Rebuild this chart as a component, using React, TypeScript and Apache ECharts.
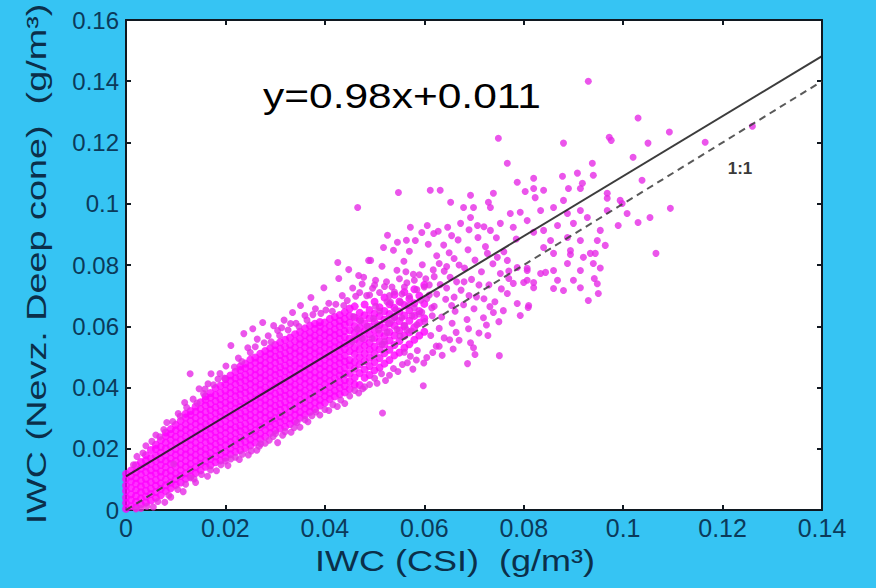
import React, { useEffect, useRef } from "react";
import * as echarts from "echarts";

// Axis ticks (g/m^3)
const xTicks = [0, 0.02, 0.04, 0.06, 0.08, 0.1, 0.12, 0.14];
const yTicks = [0, 0.02, 0.04, 0.06, 0.08, 0.1, 0.12, 0.14, 0.16];

// Fit line and 1:1 line
const fitSlope = 0.98;
const fitIntercept = 0.011;
const lineXRange = [0, 0.14];

// Dense core of the cloud, read per column: [x, y1, y2, ...] in units of 0.001 g/m^3
const coreColumns: number[][] = [
  [0, 0.4, 2.3, 4.1, 6.2, 8.0, 10.1, 11.8],
  [1, 1.2, 3.3, 5.1, 7.2, 9.3, 11.0, 12.9],
  [2, 0.8, 2.7, 4.6, 6.5, 8.6, 10.4, 12.3, 14.6],
  [3, 1.9, 3.8, 5.8, 7.7, 9.6, 11.6, 13.5, 15.7],
  [4, 2.4, 4.4, 6.3, 8.3, 10.2, 12.4, 14.3, 16.2, 17.9],
  [5, 3.1, 5.2, 7.0, 9.1, 11.2, 13.0, 15.1, 17.0, 19.6],
  [6, 4.0, 5.9, 7.9, 9.8, 11.9, 13.8, 15.9, 17.8, 19.9, 21.3],
  [7, 4.8, 6.9, 8.7, 10.8, 12.6, 14.7, 16.6, 18.7, 20.6, 22.8],
  [8, 6.2, 8.1, 10.0, 12.1, 14.0, 16.0, 17.9, 20.1, 22.0, 24.1, 25.3],
  [9, 7.1, 9.0, 11.0, 12.9, 15.0, 16.8, 18.9, 20.8, 22.9, 24.8, 26.4],
  [10, 8.2, 10.1, 12.0, 14.1, 16.0, 18.0, 19.9, 22.0, 23.9, 26.0, 27.8],
  [11, 9.0, 11.1, 13.0, 14.9, 17.0, 18.9, 21.0, 22.9, 25.0, 26.9, 29.1],
  [12, 10.2, 12.0, 14.1, 16.0, 18.1, 20.0, 22.1, 24.0, 26.1, 28.0, 30.2, 31.4],
  [13, 11.0, 13.1, 15.0, 17.1, 19.0, 21.1, 23.0, 25.1, 27.0, 29.1, 31.0, 32.3],
  [14, 12.1, 14.0, 16.1, 18.0, 20.1, 22.0, 24.1, 26.0, 28.1, 30.0, 32.1, 33.8],
  [15, 13.0, 15.1, 17.0, 19.1, 21.0, 23.1, 25.0, 27.1, 29.0, 31.1, 33.0, 35.2],
  [16, 14.1, 16.0, 18.1, 20.0, 22.1, 24.0, 26.1, 28.0, 30.1, 32.0, 34.1, 36.0, 37.1],
  [17, 14.6, 16.7, 18.6, 20.7, 22.6, 24.7, 26.6, 28.7, 30.6, 32.7, 34.6, 36.7, 38.2],
  [18, 15.6, 17.5, 19.6, 21.5, 23.6, 25.5, 27.6, 29.5, 31.6, 33.5, 35.6, 37.5, 39.8],
  [19, 16.2, 18.3, 20.2, 22.3, 24.2, 26.3, 28.2, 30.3, 32.2, 34.3, 36.2, 38.3, 40.6],
  [20, 17.1, 19.0, 21.1, 23.0, 25.1, 27.0, 29.1, 31.0, 33.1, 35.0, 37.1, 39.0, 41.1, 42.8],
  [21, 18.2, 20.1, 22.2, 24.1, 26.2, 28.1, 30.2, 32.1, 34.2, 36.1, 38.2, 40.1, 42.2, 43.9],
  [22, 19.0, 21.1, 23.0, 25.1, 27.0, 29.1, 31.0, 33.1, 35.0, 37.1, 39.0, 41.1, 43.0, 45.1],
  [23, 19.6, 21.7, 23.6, 25.7, 27.6, 29.7, 31.6, 33.7, 35.6, 37.7, 39.6, 41.7, 43.6, 45.7, 46.9],
  [24, 20.2, 22.3, 24.2, 26.3, 28.2, 30.3, 32.2, 34.3, 36.2, 38.3, 40.2, 42.3, 44.2, 46.3, 47.8],
  [25, 21.1, 23.0, 25.1, 27.0, 29.1, 31.0, 33.1, 35.0, 37.1, 39.0, 41.1, 43.0, 45.1, 47.0, 49.1],
  [26, 22.0, 24.1, 26.0, 28.1, 30.0, 32.1, 34.0, 36.1, 38.0, 40.1, 42.0, 44.1, 46.0, 48.1, 49.8],
  [27, 23.1, 25.0, 27.1, 29.0, 31.1, 33.0, 35.1, 37.0, 39.1, 41.0, 43.1, 45.0, 47.1, 49.0, 51.0],
  [28, 24.0, 26.1, 28.0, 30.1, 32.0, 34.1, 36.0, 38.1, 40.0, 42.1, 44.0, 46.1, 48.0, 50.1, 51.9],
  [29, 25.1, 27.0, 29.1, 31.0, 33.1, 35.0, 37.1, 39.0, 41.1, 43.0, 45.1, 47.0, 49.1, 51.0, 52.8],
  [30, 26.0, 28.1, 30.0, 32.1, 34.0, 36.1, 38.0, 40.1, 42.0, 44.1, 46.0, 48.1, 50.0, 52.1, 53.9],
  [31, 26.6, 28.7, 30.6, 32.7, 34.6, 36.7, 38.6, 40.7, 42.6, 44.7, 46.6, 48.7, 50.6, 52.7, 54.8],
  [32, 27.2, 29.3, 31.2, 33.3, 35.2, 37.3, 39.2, 41.3, 43.2, 45.3, 47.2, 49.3, 51.2, 53.3, 55.6],
  [33, 28.1, 30.0, 32.1, 34.0, 36.1, 38.0, 40.1, 42.0, 44.1, 46.0, 48.1, 50.0, 52.1, 54.0, 56.3],
  [34, 29.0, 31.1, 33.0, 35.1, 37.0, 39.1, 41.0, 43.1, 45.0, 47.1, 49.0, 51.1, 53.0, 55.1, 57.4],
  [35, 30.1, 32.0, 34.1, 36.0, 38.1, 40.0, 42.1, 44.0, 46.1, 48.0, 50.1, 52.0, 54.1, 56.0, 58.2],
  [36, 31.0, 33.1, 35.0, 37.1, 39.0, 41.1, 43.0, 45.1, 47.0, 49.1, 51.0, 53.1, 55.0, 57.1, 59.3],
  [37, 32.1, 34.0, 36.1, 38.0, 40.1, 42.0, 44.1, 46.0, 48.1, 50.0, 52.1, 54.0, 56.1, 58.0, 60.2],
  [38, 33.0, 35.1, 37.0, 39.1, 41.0, 43.1, 45.0, 47.1, 49.0, 51.1, 53.0, 55.1, 57.0, 59.1, 60.8],
  [39, 34.1, 36.0, 38.1, 40.0, 42.1, 44.0, 46.1, 48.0, 50.1, 52.0, 54.1, 56.0, 58.1, 60.0, 61.4],
  [40, 35.0, 37.1, 39.0, 41.1, 43.0, 45.1, 47.0, 49.1, 51.0, 53.1, 55.0, 57.1, 59.0, 61.2],
  [41, 36.2, 38.1, 40.2, 42.1, 44.2, 46.1, 48.2, 50.1, 52.2, 54.1, 56.2, 58.1, 60.2, 62.4],
  [42, 37.1, 39.0, 41.1, 43.0, 45.1, 47.0, 49.1, 51.0, 53.1, 55.0, 57.1, 59.0, 61.1, 63.0],
  [43, 37.8, 39.9, 41.8, 43.9, 45.8, 47.9, 49.8, 51.9, 53.8, 55.9, 57.8, 59.9, 61.8, 63.7],
  [44, 38.4, 40.5, 42.4, 44.5, 46.4, 48.5, 50.4, 52.5, 54.4, 56.5, 58.4, 60.5, 62.4, 64.6],
  [45, 39.5, 42.0, 44.6, 47.2, 49.0, 51.8, 54.1, 56.0, 58.7, 61.2, 63.4, 65.8],
  [46, 41.0, 43.3, 46.1, 48.4, 50.9, 53.0, 55.6, 57.9, 60.1, 62.8, 66.5],
  [47, 40.8, 44.7, 47.5, 49.9, 52.4, 54.8, 57.1, 59.5, 62.0, 64.4],
  [48, 43.2, 45.8, 48.6, 51.1, 53.6, 55.9, 58.5, 61.0, 63.6, 67.1],
  [49, 44.1, 47.0, 49.7, 52.3, 54.6, 57.4, 59.9, 62.7, 65.3],
  [50, 45.6, 48.3, 51.0, 53.4, 56.2, 58.8, 61.5, 64.1, 68.0],
  [51, 46.5, 49.6, 52.5, 55.1, 57.6, 60.4, 63.3, 66.2],
  [52, 47.8, 51.2, 54.0, 56.8, 59.5, 62.2, 65.0, 69.4],
  [53, 49.0, 52.3, 55.4, 58.1, 61.0, 64.0, 67.2],
  [54, 50.5, 53.9, 57.0, 60.2, 63.1, 66.0, 70.3],
  [55, 51.4, 55.2, 58.6, 61.7, 64.8, 68.1],
  [56, 53.0, 56.9, 60.0, 63.5, 66.9, 71.2],
  [57, 54.1, 58.0, 61.8, 65.2, 69.0],
  [58, 55.6, 59.7, 63.4, 67.5, 72.1],
  [59, 57.0, 61.1, 65.0, 70.0],
  [60, 58.2, 62.6, 67.3, 73.5],
];

// Scattered points around the core: [x, y] in units of 0.001 g/m^3
const upperEdgePoints: number[][] = [
  [12.9, 44.5], [17.1, 44.5], [14.7, 39.6], [21.1, 53.7], [23.7, 57.6], [25.5, 59.2], [27.5, 61.2],
  [29.7, 60.2], [33.1, 60.9], [33.5, 64.5], [35.1, 66.8], [37.2, 69.4], [39.8, 72.6], [42.6, 80.8],
  [42.8, 75.6], [46.8, 76.6], [48.8, 81.5], [51.8, 85.7], [52.6, 89.7], [46.6, 98.8], [54.8, 103.7],
  [57.2, 92.3], [54.6, 87.4], [49.2, 81.5], [6.0, 24.5], [8.2, 28.6], [10.5, 31.5], [4.0, 21.0],
  [2.2, 17.5], [11.8, 35.1], [15.6, 38.0], [18.5, 42.8], [20.1, 47.0], [16.5, 41.2], [24.5, 53.0],
  [26.4, 55.8], [30.5, 58.6], [31.8, 62.0], [36.0, 63.5], [38.1, 65.7], [40.8, 67.5], [43.5, 70.0],
  [45.6, 72.5], [47.5, 73.8], [50.2, 75.0], [44.8, 78.5],
  [1.5, 14.8], [3.4, 18.6], [5.2, 22.4], [6.8, 23.9], [7.6, 26.3], [9.4, 28.9], [10.9, 30.6],
  [12.2, 33.5], [13.5, 36.2], [14.3, 34.9], [15.9, 39.5], [17.6, 40.9], [18.9, 44.6], [19.8, 43.1],
  [21.8, 46.7], [22.6, 49.6], [23.3, 48.5], [25.0, 51.4], [26.0, 53.3], [27.8, 54.6], [28.6, 56.9],
  [29.2, 54.9], [30.9, 57.0], [31.3, 59.5], [32.6, 58.8], [34.2, 61.0], [34.8, 59.9], [36.4, 62.0],
  [37.6, 63.8], [39.2, 64.2], [40.2, 65.3], [41.5, 64.9], [42.2, 67.2], [43.8, 66.8], [44.5, 68.4],
  [46.2, 69.8], [47.0, 71.0], [48.4, 70.0], [49.6, 72.4], [51.0, 71.0], [52.4, 74.5], [53.5, 72.8],
  [55.0, 75.5], [56.3, 77.8],
];

const lowerEdgePoints: number[][] = [
  [3.0, 0.5], [5.5, 1.0], [7.8, 2.5], [9.0, 4.2], [11.5, 6.0], [13.0, 10.5], [14.0, 9.0], [9.6, 15.0],
  [16.4, 11.0], [18.2, 12.8], [20.5, 14.5], [21.1, 16.7], [22.8, 16.5], [24.6, 18.0], [26.3, 19.5],
  [27.1, 21.6], [28.0, 21.8], [30.5, 22.0], [30.1, 25.0], [31.5, 24.4], [33.2, 25.4], [35.0, 27.0],
  [36.6, 28.8], [39.0, 31.0], [40.8, 32.5], [42.5, 33.8], [44.0, 34.8], [46.0, 39.0], [48.0, 40.2],
  [50.5, 41.4], [51.6, 31.7], [53.0, 44.0], [54.7, 45.2], [56.6, 48.1], [57.7, 46.0], [59.9, 48.0],
  [59.8, 40.6], [61.7, 51.4], [63.0, 53.5], [65.1, 55.6], [68.7, 47.8], [69.9, 53.0], [68.9, 59.2],
  [69.3, 54.6], [75.1, 50.4], [70.2, 50.8],
  [2.0, 0.3], [4.2, 1.2], [6.4, 2.8], [8.6, 4.8], [10.4, 6.7], [12.0, 8.4], [13.7, 10.1], [15.2, 11.6],
  [17.0, 13.1], [19.1, 14.8], [20.0, 16.0], [22.0, 17.2], [23.4, 18.2], [25.2, 19.3], [26.8, 20.8],
  [28.8, 22.8], [29.6, 24.0], [32.0, 25.6], [33.8, 26.9], [34.4, 28.6], [36.0, 29.5], [37.4, 30.8],
  [38.2, 32.0], [40.0, 32.8], [41.6, 34.4], [43.2, 35.9], [45.0, 37.2], [46.8, 38.2], [47.6, 39.6],
  [49.0, 41.0], [50.0, 43.0], [51.4, 44.5], [52.2, 42.3], [53.8, 46.2], [55.6, 47.5], [57.2, 50.2],
  [58.4, 49.0],
];

const middlePoints: number[][] = [
  [55.5, 70.5], [56.5, 74.2], [57.8, 77.0], [58.5, 72.0], [59.6, 80.1], [60.3, 75.5], [61.0, 70.2],
  [61.8, 78.4], [62.5, 83.0], [63.2, 73.6], [63.9, 86.5], [64.5, 79.5], [65.2, 76.0], [66.0, 82.1],
  [66.8, 88.2], [67.4, 71.8], [68.1, 79.0], [68.8, 85.0], [69.5, 75.3], [70.2, 81.6], [70.8, 89.0],
  [71.5, 77.8], [72.3, 86.0], [73.0, 73.5], [73.8, 80.4], [57.0, 84.5], [58.2, 88.0], [55.9, 81.2],
  [54.5, 78.3], [60.8, 86.8], [62.0, 66.5], [64.3, 68.8], [66.2, 64.9], [67.9, 67.0], [70.5, 69.6],
  [71.9, 62.8], [58.9, 64.0], [60.1, 61.5], [63.0, 59.3], [65.6, 61.0], [56.0, 60.3], [54.0, 62.9],
  [53.2, 67.8], [52.0, 73.0], [55.1, 56.8], [57.4, 58.4], [61.3, 57.0], [64.0, 56.2], [66.4, 58.0],
  [62.4, 53.5], [58.6, 52.1], [56.0, 51.5], [52.0, 55.0], [50.8, 58.8], [60.5, 49.8], [63.6, 50.5],
  [65.8, 52.6], [67.0, 55.4], [71.0, 57.8], [72.5, 60.4], [74.2, 68.0], [75.5, 72.2], [77.0, 78.0],
  [76.0, 84.3], [78.5, 88.5], [74.5, 88.9], [72.0, 92.5], [69.0, 91.5], [65.5, 89.6], [62.8, 91.0],
  [59.5, 90.6], [56.4, 88.1], [53.8, 84.8], [51.5, 79.6], [50.0, 73.5], [49.0, 70.2], [47.8, 76.0],
  [52.8, 60.8], [54.2, 65.4], [56.8, 66.8], [59.3, 68.5], [61.6, 63.4], [68.6, 62.2], [70.0, 65.7],
  [73.2, 66.4], [75.0, 61.5], [72.8, 57.0],
  [45.5, 55.0], [46.5, 59.0], [47.5, 56.0], [48.5, 60.0], [49.5, 56.0], [50.5, 60.2], [51.5, 54.0],
  [52.5, 58.0], [53.5, 62.0], [54.5, 59.0], [55.5, 62.8], [56.5, 58.8], [57.5, 63.4], [58.5, 60.5],
  [59.5, 64.6], [60.5, 69.0], [61.5, 66.0], [62.5, 70.5], [63.5, 63.0], [64.5, 72.5], [65.5, 66.8],
  [66.5, 74.5], [58.0, 66.0], [60.0, 72.8], [62.0, 76.2], [64.0, 78.0], [57.0, 69.8], [55.2, 67.8],
  [53.0, 70.0], [51.0, 65.0], [49.8, 62.5], [47.2, 61.8], [45.8, 63.2], [50.2, 66.5], [52.5, 68.0],
  [54.0, 71.2], [56.0, 72.8], [58.0, 75.0], [59.0, 76.8], [61.0, 73.5], [63.0, 80.5], [65.0, 84.0],
  [67.0, 80.0], [69.0, 70.0], [71.0, 73.5], [72.0, 69.0], [66.0, 69.5], [68.0, 74.5],
];

const rightClusterPoints: number[][] = [
  [93.0, 140.0], [103.0, 128.0], [109.3, 123.4], [97.2, 121.7], [97.6, 120.7], [105.0, 119.8], [88.0, 119.8],
  [116.5, 120.1], [126.0, 125.3], [74.9, 121.4], [76.7, 113.2], [93.8, 113.2], [102.0, 115.2],
  [94.0, 109.3], [87.8, 109.0], [90.8, 110.0], [91.8, 106.7], [103.8, 107.7], [82.0, 108.3],
  [78.7, 107.0], [82.0, 105.0], [82.3, 102.0], [84.0, 104.4], [80.3, 104.0], [89.0, 105.0],
  [91.4, 105.0], [96.8, 103.4], [96.8, 101.8], [96.8, 97.8], [99.4, 101.1], [99.8, 100.1],
  [100.8, 96.8], [109.5, 98.5], [105.4, 95.5], [103.0, 93.9], [99.0, 92.9], [106.6, 83.8],
  [95.4, 91.3], [94.8, 88.0], [96.4, 86.4], [94.4, 83.8], [95.0, 70.7], [93.0, 68.4],
  [61.2, 104.4], [63.2, 104.4], [65.3, 100.5], [69.3, 102.8], [73.9, 103.4], [67.9, 98.8],
  [69.9, 98.8], [72.9, 100.5], [73.3, 98.8], [60.6, 92.9], [61.9, 90.3], [64.7, 92.3],
  [67.3, 93.6], [69.3, 95.5], [70.7, 92.9], [73.3, 91.3], [75.3, 93.6], [77.3, 96.8], [79.3, 97.2],
  [77.9, 92.3], [80.7, 94.5], [83.4, 97.8], [86.0, 98.8], [88.0, 101.1], [88.8, 96.8], [91.4, 97.8],
  [92.8, 95.5], [90.0, 93.6], [86.8, 92.9], [84.0, 91.3], [82.0, 90.7], [85.4, 88.0], [88.8, 89.0],
  [91.4, 88.0], [84.0, 85.7], [86.0, 83.8], [89.4, 84.7], [92.0, 82.5], [88.8, 80.5], [86.0, 78.2],
  [83.4, 77.2], [80.7, 78.9], [78.7, 79.2], [76.7, 81.5], [74.7, 82.5], [72.7, 83.8], [75.3, 77.2],
  [77.9, 74.0], [80.7, 75.0], [82.0, 72.6], [86.8, 75.0], [90.0, 75.0], [88.0, 71.7], [73.9, 64.5],
  [75.9, 65.1], [78.7, 67.4], [80.9, 66.1], [79.3, 63.5], [81.0, 66.8], [76.7, 70.7], [94.8, 73.9],
  [86.0, 72.3], [91.4, 72.6], [84.4, 77.6], [91.4, 78.2], [94.0, 80.5], [93.4, 83.8], [89.4, 83.4],
  [80.0, 74.3], [82.0, 74.3], [77.0, 75.6], [80.7, 78.2], [95.4, 79.0], [94.2, 75.6],
];

const SCALE = 1000;

function toData(points: number[][]) {
  return points.map((p) => [p[0] / SCALE, p[1] / SCALE]);
}

export default function App() {
  const ref = useRef<HTMLDivElement>(null);

  useEffect(() => {
    if (!ref.current) return;
    const chart = echarts.init(ref.current, undefined, { renderer: "svg" });

    const coreData = coreColumns.flatMap((c) => c.slice(1).map((y) => [c[0] / SCALE, y / SCALE]));
    const sparseData = [
      ...toData(upperEdgePoints),
      ...toData(lowerEdgePoints),
      ...toData(middlePoints),
      ...toData(rightClusterPoints),
    ];
    const fitLine = lineXRange.map((x) => [x, fitSlope * x + fitIntercept]);
    const oneToOne = lineXRange.map((x) => [x, x]);

    const labelFmt = (v: number) => String(parseFloat(v.toFixed(3)));
    const axisColor = "#101820";
    const labelColor = "#0B3A5A";
    const xMin = xTicks[0];
    const xMax = xTicks[xTicks.length - 1];
    const yMin = yTicks[0];
    const yMax = yTicks[yTicks.length - 1];
    const xInt = xTicks[1] - xTicks[0];
    const yInt = yTicks[1] - yTicks[0];

    const baseX = {
      type: "value" as const,
      min: xMin,
      max: xMax,
      interval: xInt,
      splitLine: { show: false },
      axisLine: { show: true, onZero: false, lineStyle: { color: axisColor, width: 2 } },
      axisTick: { show: true, inside: true, length: 5, lineStyle: { color: axisColor, width: 2 } },
    };
    const baseY = {
      type: "value" as const,
      min: yMin,
      max: yMax,
      interval: yInt,
      splitLine: { show: false },
      axisLine: { show: true, onZero: false, lineStyle: { color: axisColor, width: 2 } },
      axisTick: { show: true, inside: true, length: 5, lineStyle: { color: axisColor, width: 2 } },
    };

    chart.setOption({
      animation: false,
      backgroundColor: "#36C4F3",
      grid: { left: 126, right: 54, top: 20, bottom: 78, show: true, backgroundColor: "#FFFFFF", borderWidth: 0 },
      xAxis: [
        {
          ...baseX,
          position: "bottom",
          axisLabel: {
            color: labelColor,
            fontSize: 25,
            fontFamily: "Liberation Sans, Arial, sans-serif",
            margin: 5,
            formatter: labelFmt,
          },
        },
        { ...baseX, position: "top", axisLabel: { show: false } },
      ],
      yAxis: [
        {
          ...baseY,
          position: "left",
          axisLabel: {
            color: labelColor,
            fontSize: 24,
            fontFamily: "Liberation Sans, Arial, sans-serif",
            margin: 7,
            formatter: labelFmt,
          },
        },
        { ...baseY, position: "right", axisLabel: { show: false } },
      ],
      series: [
        {
          type: "scatter",
          xAxisIndex: 0,
          yAxisIndex: 0,
          symbol: "circle",
          symbolSize: 8,
          itemStyle: { color: "#FF00FF" },
          data: coreData,
          z: 2,
        },
        {
          type: "scatter",
          xAxisIndex: 0,
          yAxisIndex: 0,
          symbol: "circle",
          symbolSize: 7,
          itemStyle: { color: "#E62AE6" },
          data: sparseData,
          z: 2,
        },
        {
          type: "line",
          xAxisIndex: 0,
          yAxisIndex: 0,
          data: fitLine,
          symbol: "none",
          lineStyle: { color: "#1A1A1A", width: 2, opacity: 0.85 },
          z: 3,
        },
        {
          type: "line",
          xAxisIndex: 0,
          yAxisIndex: 0,
          data: oneToOne,
          symbol: "none",
          lineStyle: { color: "#3C3C3C", width: 2, type: [7, 5], opacity: 0.85 },
          z: 3,
        },
      ],
      graphic: [
        {
          type: "text",
          x: 263,
          y: 95,
          scaleX: 1.18,
          style: {
            text: "y=0.98x+0.011",
            font: "36px 'Liberation Sans', Arial, sans-serif",
            fill: "#000000",
            align: "left",
            verticalAlign: "middle",
          },
          z: 10,
        },
        {
          type: "text",
          x: 740,
          y: 168,
          style: {
            text: "1:1",
            font: "bold 17px 'Liberation Sans', Arial, sans-serif",
            fill: "#3A3A3A",
            align: "center",
            verticalAlign: "middle",
          },
          z: 10,
        },
        {
          type: "text",
          x: 455,
          y: 561,
          scaleX: 1.2,
          style: {
            text: "IWC (CSI)  (g/m³)",
            font: "30px 'Liberation Sans', Arial, sans-serif",
            fill: "#0B2F4A",
            align: "center",
            verticalAlign: "middle",
          },
          z: 10,
        },
        {
          type: "text",
          x: 36,
          y: 264,
          rotation: Math.PI / 2,
          scaleX: 1.35,
          style: {
            text: "IWC (Nevz. Deep cone)  (g/m³)",
            font: "28px 'Liberation Sans', Arial, sans-serif",
            fill: "#0B2F4A",
            align: "center",
            verticalAlign: "middle",
          },
          z: 10,
        },
      ],
    });

    return () => chart.dispose();
  }, []);

  return <div ref={ref} style={{ width: 876, height: 588, position: "absolute", left: 0, top: 0 }} />;
}
